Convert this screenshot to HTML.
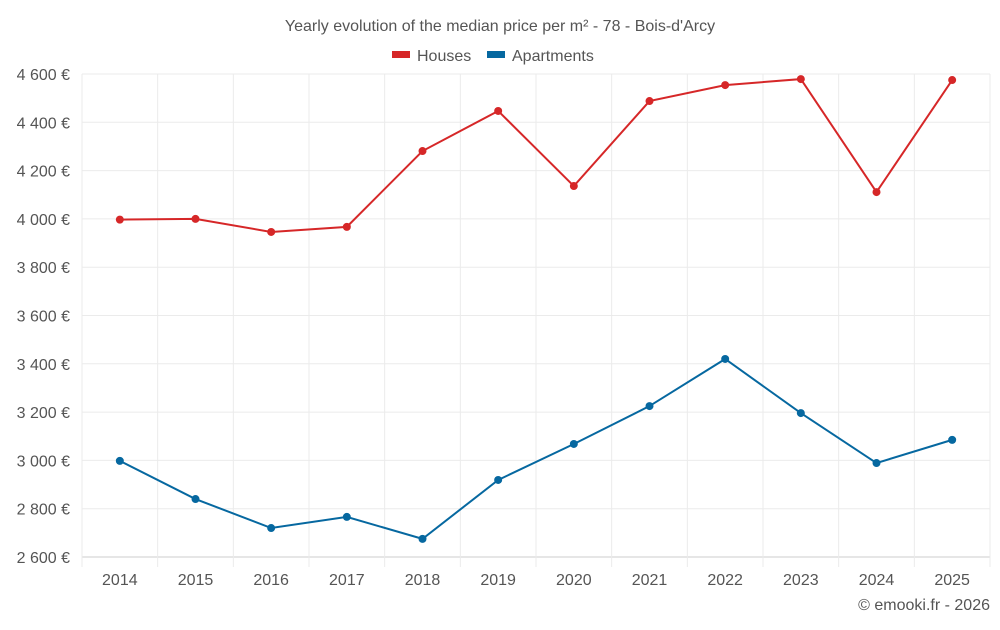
<!DOCTYPE html>
<html><head><meta charset="utf-8"><style>
body{margin:0;background:#fff;font-family:"Liberation Sans",sans-serif;}
svg text{font-family:"Liberation Sans",sans-serif;fill:#555;}
</style></head><body>
<svg id="chart" width="1000" height="625">
<text x="500" y="31" text-anchor="middle" font-size="16">Yearly evolution of the median price per m² - 78 - Bois-d'Arcy</text>
<g>
<g><rect x="392" y="51" width="18" height="7" fill="#d62728"/><text x="417" y="61" font-size="16">Houses</text></g>
<g><rect x="487" y="51" width="18" height="7" fill="#0668a0"/><text x="512" y="61" font-size="16">Apartments</text></g>
</g>
<g id="grid"></g><g id="axes"></g><g id="series"></g>
<text x="990" y="610" text-anchor="end" font-size="16">© emooki.fr - 2026</text>
</svg>
<script>
const years=["2014","2015","2016","2017","2018","2019","2020","2021","2022","2023","2024","2025"];
const houses=[3997,4000,3946,3967,4281,4447,4136,4488,4554,4579,4111,4575];
const apartments=[2998,2840,2720,2766,2675,2919,3068,3225,3420,3196,2989,3085];
const yTicks=[2600,2800,3000,3200,3400,3600,3800,4000,4200,4400,4600];
const L=82,R=990,T=74,B=557,yMin=2600,yMax=4600;
const ns="http://www.w3.org/2000/svg";
const step=(R-L)/years.length;
const xs=i=>L+step*(i+0.5);
const ys=v=>B-(v-yMin)/(yMax-yMin)*(B-T);
function mk(tag,attrs,parent){const e=document.createElementNS(ns,tag);for(const k in attrs)e.setAttribute(k,attrs[k]);parent.appendChild(e);return e;}
const grid=document.getElementById('grid'),axes=document.getElementById('axes'),ser=document.getElementById('series');
yTicks.forEach(v=>{
 const l=mk('line',{x1:L,x2:R,y1:ys(v),y2:ys(v),stroke:v===yMin?'#ccc':'#ebebeb'},grid);
 
 
 const t=mk('text',{x:L-12,y:ys(v)+6,'text-anchor':'end','font-size':'16'},axes);
 t.textContent=String(v).replace(/(\d)(\d{3})$/,'$1 $2')+' €';
 
 
});
for(let i=0;i<=years.length;i++){
 const x=L+step*i;
 const g=mk('line',{x1:x,x2:x,y1:T,y2:B+10,stroke:'#ebebeb'},grid);
 
 
}
years.forEach((y,i)=>{
 const t=mk('text',{x:xs(i),y:B+28,'text-anchor':'middle','font-size':'16'},axes);
 t.textContent=y;
 
 
});
function draw(data,color,name){
 const p=mk('polyline',{points:data.map((v,i)=>xs(i)+','+ys(v)).join(' '),fill:'none',stroke:color,'stroke-width':2},ser);
 
 
 data.forEach((v,i)=>{
  const c=mk('circle',{cx:xs(i),cy:ys(v),r:4,fill:color},ser);
  
  
 });
}
draw(houses,'#d62728','houses');
draw(apartments,'#0668a0','apartments');
</script>
</body></html>
